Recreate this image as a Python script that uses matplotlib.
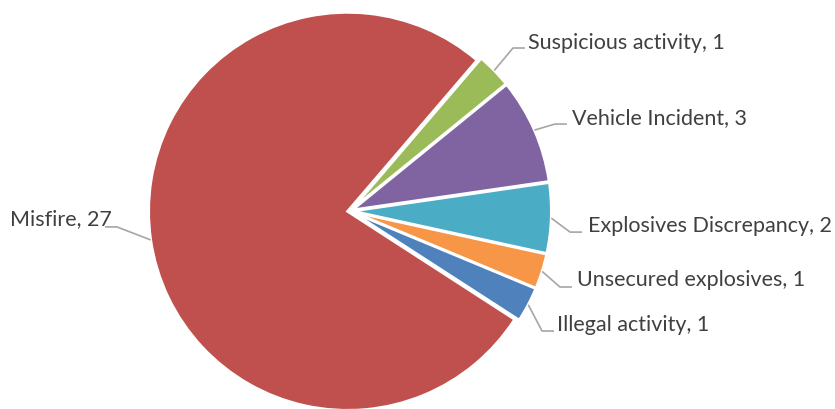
import numpy as np
import matplotlib
matplotlib.use('Agg')
import matplotlib.pyplot as plt

plt.rcParams['font.family'] = ['Lato', 'DejaVu Sans']

#%% data
categories = ['Suspicious activity', 'Vehicle Incident', 'Explosives Discrepancy',
              'Unsecured explosives', 'Illegal activity', 'Misfire']
counts = [1, 3, 2, 1, 1, 27]
colors = ['#9BBB59', '#8064A2', '#4BACC6', '#F79646', '#4F81BD', '#C0504D']

# label text anchor and leader-line elbow, in pie-radius units
label_pos = [(0.894, 0.849), (1.116, 0.472), (1.196, -0.070),
             (1.141, -0.342), (1.040, -0.568), (-1.196, -0.035)]
elbow_pos = [(0.819, 0.819), (1.030, 0.437), (1.106, -0.106),
             (1.055, -0.382), (0.965, -0.603), (-1.171, -0.080)]

#%% plot
fig = plt.figure(figsize=(8.35, 4.1), dpi=100)
ax = fig.add_axes([0, 0, 1, 1])

start = 90 - 40.6  # first slice begins ~40 deg clockwise from 12 o'clock
wedges, _ = ax.pie(counts, colors=colors, startangle=start, counterclock=False,
                   explode=[0.012] * len(counts), radius=1.0,
                   wedgeprops=dict(edgecolor='white', linewidth=2))

for w, cat, n, lp, ep in zip(wedges, categories, counts, label_pos, elbow_pos):
    mid = np.deg2rad((w.theta1 + w.theta2) / 2)
    cx, cy = w.center
    px, py = cx + 1.0 * np.cos(mid), cy + 1.0 * np.sin(mid)
    right = lp[0] > 0
    ex = ep[0] + (0.06 if right else -0.06)
    ax.plot([px, ep[0], ex], [py, ep[1], ep[1]], color='#A6A6A6', lw=1.2,
            solid_capstyle='butt', zorder=3)
    ax.text(lp[0], lp[1], f'{cat}, {n}', ha='left' if right else 'right',
            va='center', fontsize=15.5, color='#404040')

ax.set_xlim(-350 / 199, 485 / 199)
ax.set_ylim(-198 / 199, 212 / 199)
ax.set_aspect('equal')
ax.axis('off')

fig.savefig('out.png', dpi=100)
